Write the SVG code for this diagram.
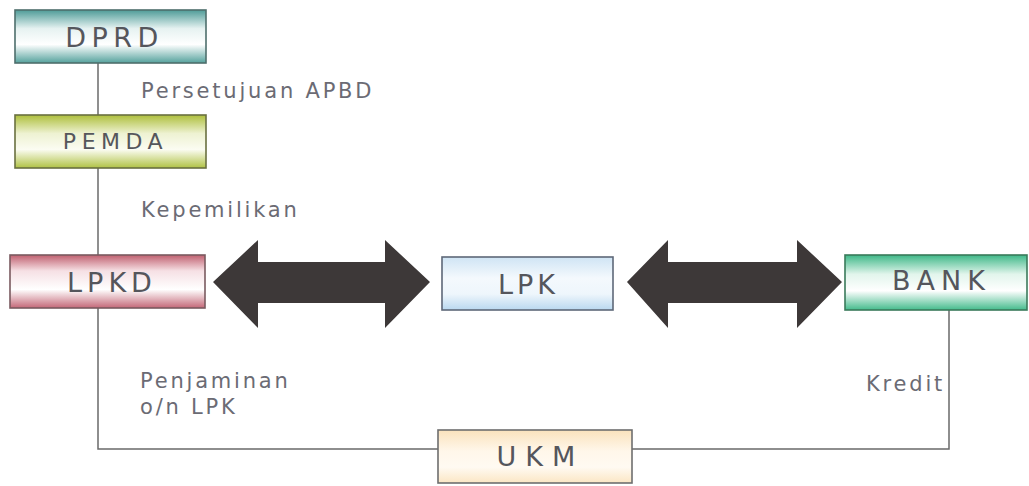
<svg xmlns="http://www.w3.org/2000/svg" width="1029" height="486" viewBox="0 0 1029 486">
<defs>
<linearGradient id="gTeal" x1="0" y1="0" x2="0" y2="1"><stop offset="0" stop-color="#4f9c98"/><stop offset="0.35" stop-color="#e6f2f1"/><stop offset="0.65" stop-color="#ffffff"/><stop offset="1" stop-color="#55a29d"/></linearGradient>
<linearGradient id="gYel" x1="0" y1="0" x2="0" y2="1"><stop offset="0" stop-color="#aebf3c"/><stop offset="0.35" stop-color="#eef2d2"/><stop offset="0.65" stop-color="#fbfcf2"/><stop offset="1" stop-color="#b0c244"/></linearGradient>
<linearGradient id="gRed" x1="0" y1="0" x2="0" y2="1"><stop offset="0" stop-color="#c06070"/><stop offset="0.3" stop-color="#f6e0e4"/><stop offset="0.65" stop-color="#ffffff"/><stop offset="1" stop-color="#c46878"/></linearGradient>
<linearGradient id="gBlue" x1="0" y1="0" x2="0" y2="1"><stop offset="0" stop-color="#cfe4f4"/><stop offset="0.4" stop-color="#f4f9fd"/><stop offset="0.7" stop-color="#eef6fc"/><stop offset="1" stop-color="#b9d8ef"/></linearGradient>
<linearGradient id="gGreen" x1="0" y1="0" x2="0" y2="1"><stop offset="0" stop-color="#3fb888"/><stop offset="0.35" stop-color="#e2f5ec"/><stop offset="0.65" stop-color="#ffffff"/><stop offset="1" stop-color="#44bb8c"/></linearGradient>
<linearGradient id="gPeach" x1="0" y1="0" x2="0" y2="1"><stop offset="0" stop-color="#fae2bc"/><stop offset="0.4" stop-color="#fff7ea"/><stop offset="0.7" stop-color="#fffaf2"/><stop offset="1" stop-color="#fbe6c4"/></linearGradient>
</defs>
<style>
.box{stroke-width:1.6}
.bt{font-family:"DejaVu Sans","Open Sans",sans-serif;font-size:27px;fill:#55565c;text-anchor:middle;letter-spacing:5px}
.lb{font-family:"DejaVu Sans","Open Sans",sans-serif;font-size:21px;fill:#6b6b74;letter-spacing:2.8px}
.ln{fill:none;stroke:#6a6a6a;stroke-width:1.5}
.ar{fill:#3d3838}
</style>
<g id="connectors">
<line class="ln" x1="98" y1="63" x2="98" y2="115"/>
<line class="ln" x1="98" y1="168" x2="98" y2="255"/>
<polyline class="ln" points="98,308 98,449 438,449"/>
<polyline class="ln" points="949,310 949,449 632,449"/>
<polygon class="ar" points="213,282 258,240 258,262 385,262 385,240 430,282 385,328 385,303 258,303 258,328"/>
<polygon class="ar" points="627,282 668,240 668,262 797,262 797,240 842,282 797,328 797,303 668,303 668,328"/>
</g>
<g id="labels">
<text class="lb" x="141" y="98">Persetujuan APBD</text>
<text class="lb" x="141" y="217">Kepemilikan</text>
<text class="lb" x="140" y="388">Penjaminan</text>
<text class="lb" x="140" y="414">o/n LPK</text>
<text class="lb" x="866" y="391">Kredit</text>
</g>
<g id="dprd"><rect class="box" x="15" y="10" width="191" height="53" fill="url(#gTeal)" stroke="#4e6e6c"/><text class="bt" x="114.5" y="47" style="letter-spacing:5.5px">DPRD</text></g>
<g id="pemda"><rect class="box" x="15" y="115" width="191" height="53" fill="url(#gYel)" stroke="#6a7040"/><text class="bt" x="115.5" y="149" style="font-size:22px;letter-spacing:5.5px">PEMDA</text></g>
<g id="lpkd"><rect class="box" x="10" y="255" width="195" height="53" fill="url(#gRed)" stroke="#7a5a60"/><text class="bt" x="112" y="292">LPKD</text></g>
<g id="lpk"><rect class="box" x="442" y="257" width="171" height="53" fill="url(#gBlue)" stroke="#5e6878"/><text class="bt" x="528.5" y="294" style="letter-spacing:4px">LPK</text></g>
<g id="bank"><rect class="box" x="845" y="255" width="182" height="55" fill="url(#gGreen)" stroke="#3a7a5a"/><text class="bt" x="941.5" y="290" style="letter-spacing:6px">BANK</text></g>
<g id="ukm"><rect class="box" x="438" y="430" width="194" height="53" fill="url(#gPeach)" stroke="#6e6e6e"/><text class="bt" x="540.5" y="466" style="letter-spacing:9px">UKM</text></g>
</svg>
